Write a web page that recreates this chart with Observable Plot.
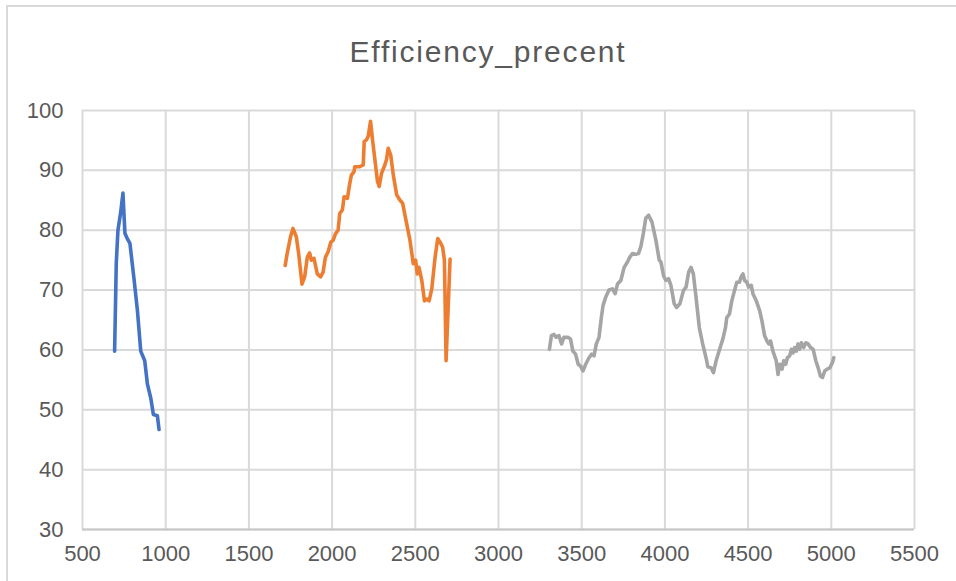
<!DOCTYPE html>
<html>
<head>
<meta charset="utf-8">
<script src="https://cdn.jsdelivr.net/npm/d3@7"></script>
<script src="https://cdn.jsdelivr.net/npm/@observablehq/plot@0.6"></script>
<style>
  html, body { margin: 0; padding: 0; background: #fff; }
  body { width: 956px; height: 581px; position: relative; overflow: hidden; font-family: "Liberation Sans", Arial, sans-serif; }
  #frame { position: absolute; left: 6px; top: 5px; width: 1000px; height: 700px; border-left: 2px solid #d9d9d9; border-top: 2px solid #d9d9d9; box-sizing: border-box; }
  #head { position: relative; height: 80px; }
  #title { position: absolute; left: 488px; top: 37px; transform: translateX(-50%); white-space: nowrap; font-size: 30px; line-height: 30px; letter-spacing: 1.8px; color: #595959; }
  #chart { position: relative; }
</style>
</head>
<body>
<div id="frame"></div>
<div id="head"><div id="title">Efficiency_precent</div></div>
<div id="chart"></div>
<script>
const titleText = "Efficiency_precent";
const seriesNames = ["Series1", "Series2", "Series3"];
const seriesColors = ["#4472C4", "#ED7D31", "#A5A5A5"];
const xTicks = [500, 1000, 1500, 2000, 2500, 3000, 3500, 4000, 4500, 5000, 5500];
const yTicks = [30, 40, 50, 60, 70, 80, 90, 100];

const blueX = [693, 703, 713, 729, 743, 755, 769, 785, 809, 830, 850, 874, 890, 910, 926, 950, 960];
const blueY = [59.8, 74.5, 80, 82.9, 86.2, 79.5, 78.6, 77.8, 72, 66.6, 59.8, 58.2, 54.3, 52, 49.2, 49, 46.7];

const orangeX = [1718, 1730, 1750, 1765, 1785, 1799, 1819, 1835, 1851, 1865, 1875, 1891, 1911, 1931, 1946, 1960, 1976, 1992, 2006, 2020, 2036, 2046, 2062, 2072, 2092, 2106, 2116, 2132, 2136, 2166, 2187, 2193, 2207, 2217, 2231, 2243, 2257, 2273, 2283, 2297, 2317, 2327, 2337, 2352, 2368, 2388, 2408, 2424, 2448, 2468, 2488, 2502, 2512, 2522, 2539, 2555, 2569, 2583, 2599, 2619, 2635, 2649, 2664, 2675, 2685, 2709];
const orangeY = [74.1, 76.1, 78.9, 80.3, 78.9, 76.1, 71, 72.2, 75.5, 76.2, 75, 75.3, 72.7, 72.2, 73, 75.5, 76.4, 78, 78.3, 79.4, 80, 82.8, 83.4, 85.6, 85.3, 87.8, 89.2, 89.8, 90.6, 90.6, 90.9, 94.8, 95.1, 95.7, 98.2, 95.1, 91.8, 88.1, 87.3, 89.5, 90.9, 91.8, 93.7, 92.6, 89.2, 85.9, 85, 84.5, 81.1, 78.3, 74.4, 75, 72.7, 73.8, 71.6, 68.2, 68.5, 68.2, 70.2, 75.5, 78.6, 78, 77.2, 75, 58.2, 75.2];

const grayX = [3306, 3318, 3333, 3347, 3363, 3379, 3393, 3419, 3433, 3447, 3463, 3479, 3493, 3508, 3524, 3544, 3560, 3574, 3588, 3604, 3618, 3628, 3644, 3664, 3685, 3701, 3715, 3735, 3755, 3775, 3789, 3805, 3825, 3841, 3855, 3870, 3885, 3902, 3922, 3946, 3966, 3976, 3992, 4006, 4022, 4036, 4056, 4070, 4090, 4111, 4127, 4143, 4157, 4171, 4187, 4207, 4227, 4247, 4258, 4278, 4292, 4308, 4332, 4348, 4364, 4372, 4388, 4402, 4418, 4432, 4448, 4458, 4469, 4479, 4493, 4503, 4519, 4529, 4549, 4569, 4583, 4599, 4613, 4625, 4635, 4649, 4669, 4680, 4690, 4704, 4714, 4726, 4736, 4750, 4760, 4770, 4780, 4790, 4800, 4810, 4820, 4834, 4847, 4861, 4875, 4891, 4907, 4921, 4935, 4947, 4961, 4975, 4991, 5007, 5015];
const grayY = [60.1, 62.4, 62.6, 62.1, 62.4, 61, 62.1, 62.1, 61.8, 59.8, 59.3, 57.6, 57.3, 56.5, 57.6, 58.7, 59.3, 59, 61, 62.1, 65.4, 67.4, 68.8, 70, 70.2, 69.4, 71, 71.6, 73.8, 74.7, 75.5, 76.1, 76, 76.1, 77.2, 79.4, 82, 82.5, 81.4, 78.3, 75, 74.7, 72.4, 71.6, 71.9, 70.8, 67.7, 67.1, 67.7, 69.9, 70.5, 73, 73.8, 72.7, 68.8, 63.7, 61, 58.7, 57.2, 57, 56.2, 58.2, 60.4, 61.8, 63.7, 65.4, 66, 68.2, 69.9, 71.3, 71.3, 72.2, 72.7, 71.6, 71.3, 70.5, 70.8, 69.4, 68.2, 66.6, 64.9, 62.4, 61.5, 61, 61.5, 59.8, 58.2, 55.9, 57.6, 56.8, 58.2, 57.6, 58.7, 59, 60.1, 59.5, 60.4, 59.8, 61, 60.1, 61.2, 60.4, 61.2, 61, 60.4, 60.1, 58.2, 57, 55.6, 55.4, 56.5, 56.8, 57, 57.9, 58.7];

const table = [];
[[blueX, blueY], [orangeX, orangeY], [grayX, grayY]].forEach(([xs, ys], i) => {
  xs.forEach((x, j) => table.push({ series: seriesNames[i], x, y: ys[j] }));
});

const plot = Plot.plot({
  width: 956,
  height: 501,
  marginLeft: 82,
  marginRight: 42,
  marginTop: 30,
  marginBottom: 52,
  style: { fontFamily: "'Liberation Sans', Arial, sans-serif", fontSize: "22px", color: "#595959", background: "transparent", overflow: "visible" },
  x: { domain: [500, 5500], label: null },
  y: { domain: [30, 100], label: null },
  color: { domain: seriesNames, range: seriesColors },
  marks: [
    Plot.gridX(xTicks, { stroke: "#d9d9d9", strokeOpacity: 1, strokeWidth: 2 }),
    Plot.gridY(yTicks, { stroke: "#d9d9d9", strokeOpacity: 1, strokeWidth: 2 }),
    Plot.ruleY([30], { stroke: "#c8c8c8", strokeWidth: 2 }),
    Plot.axisX(xTicks, { tickSize: 0, tickPadding: 16, tickFormat: d => String(d), label: null, fill: "#595959" }),
    Plot.axisY(yTicks, { tickSize: 0, tickPadding: 19, tickFormat: d => String(d), label: null, fill: "#595959" }),
    Plot.line(table, { x: "x", y: "y", z: "series", stroke: "series", strokeWidth: 3.6, strokeLinejoin: "round", strokeLinecap: "round" })
  ]
});
document.getElementById("chart").appendChild(plot);
</script>
</body>
</html>
